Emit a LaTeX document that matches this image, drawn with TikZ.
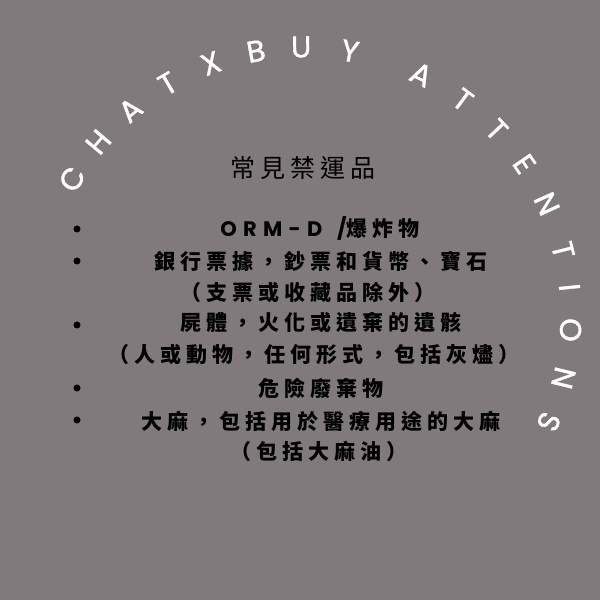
\documentclass[tikz,border=0pt]{standalone}
\usepackage{fontspec}
\setmainfont{Poppins}
\newfontfamily\pop{Poppins}
\newfontfamily\popm{Poppins}[FakeBold=1.2]
\newfontfamily\cjk{Noto Sans CJK TC}
\definecolor{bg}{RGB}{128,122,125}
\begin{document}
\begin{tikzpicture}[x=1pt,y=1pt,
  arcletter/.style={text=white, inner sep=0pt, font=\popm\fontsize{30}{30}\selectfont},
  itemtext/.style={inner sep=0pt, text=black, font=\cjk\bfseries\fontsize{21}{24}\selectfont\addfontfeatures{LetterSpace=24}},
  titletext/.style={inner sep=0pt, text=black, font=\cjk\fontsize{25}{28}\selectfont\addfontfeatures{LetterSpace=20}},
  bullet/.style={circle, fill=black, inner sep=0pt, minimum size=7pt}]
\fill[bg] (0,0) rectangle (600,600);
\useasboundingbox (0,0) rectangle (600,600);
\begin{scope}[shift={(303,285)}]
\foreach \ch/\ang [count=\i] in {C/149.5,H/139.8,A/130.1,T/120.3,X/110.1,B/100.1,U/90.4,Y/79.9,A/63.8,T/53.4,T/43.7,E/34.3,N/24.5,T/14.0,I/5.9,O/-3.2,N/-13.6,S/-23.5}
  \node[arcletter, rotate=\ang-90] (L\i) at (\ang:268) {\ch};
\end{scope}
\node[titletext] (title) at (303,432) {常見禁運品};
\node[itemtext] (t1) at (320,372) {{\pop\bfseries\addfontfeatures{LetterSpace=30}ORM-D\hspace{4pt} /}爆炸物};
\node[itemtext] (t2) at (321,339) {銀行票據，鈔票和貨幣、寶石};
\node[itemtext] (t3) at (308,308) {（支票或收藏品除外）};
\node[itemtext] (t4) at (321,277) {屍體，火化或遺棄的遺骸};
\node[itemtext] (t5) at (314,245) {（人或動物，任何形式，包括灰燼）};
\node[itemtext] (t6) at (321,212) {危險廢棄物};
\node[itemtext] (t7) at (321,179) {大麻，包括用於醫療用途的大麻};
\node[itemtext] (t8) at (319,149) {（包括大麻油）};
\node[bullet] (b1) at (77,371) {};
\node[bullet] (b2) at (77,339) {};
\node[bullet] (b3) at (77,275) {};
\node[bullet] (b4) at (77,212) {};
\node[bullet] (b5) at (77,180) {};
\end{tikzpicture}
\end{document}
